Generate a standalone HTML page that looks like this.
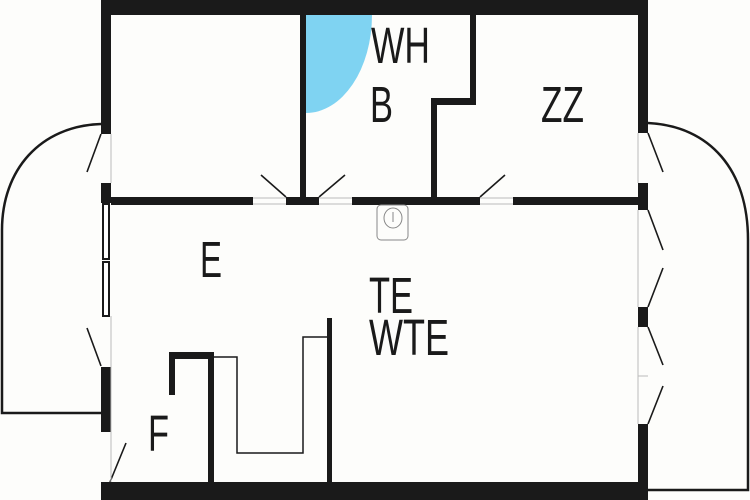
<!DOCTYPE html>
<html><head><meta charset="utf-8"><style>
html,body{margin:0;padding:0;background:#fdfdfb;}
svg{display:block;}
text{font-family:"Liberation Sans",sans-serif;fill:#1a1a1a;font-size:51px;}
</style></head><body>
<svg width="750" height="500" viewBox="0 0 750 500" xmlns="http://www.w3.org/2000/svg">
<rect width="750" height="500" fill="#fdfdfb"/>
<path d="M101,124 C40,126 2,170 2,230 L2,413 L101,413" fill="none" stroke="#1a1a1a" stroke-width="2.5"/>
<path d="M648,123 C710,126 748,170 748,240 L748,490 L648,490" fill="none" stroke="#1a1a1a" stroke-width="2.5"/>
<path d="M306,15 L372,15 A66,98 0 0 1 306,113 Z" fill="#7fd3f2"/>
<g fill="#1a1a1a">
<rect x="101" y="0" width="547" height="15"/>
<rect x="101" y="0" width="10" height="134"/>
<rect x="101" y="183" width="10" height="20"/>
<rect x="101" y="367" width="10" height="65"/>
<rect x="101" y="482" width="547" height="18"/>
<rect x="638" y="0" width="10" height="133"/>
<rect x="638" y="183" width="10" height="27"/>
<rect x="638" y="307" width="10" height="20"/>
<rect x="638" y="424" width="10" height="76"/>
<rect x="111" y="197" width="142" height="8"/>
<rect x="286" y="197" width="33" height="8"/>
<rect x="352" y="197" width="128" height="8"/>
<rect x="513" y="197" width="125" height="8"/>
<rect x="300" y="15" width="6" height="185"/>
<rect x="470" y="15" width="6" height="90"/>
<rect x="431" y="98" width="45" height="7"/>
<rect x="431" y="98" width="6" height="100"/>
<rect x="169" y="352" width="45" height="7"/>
<rect x="169" y="352" width="6" height="43"/>
<rect x="208" y="352" width="6" height="132"/>
<rect x="327" y="318" width="5" height="166"/>
</g>
<rect x="103" y="204" width="6" height="55" fill="#fff" stroke="#1a1a1a" stroke-width="2"/>
<rect x="103" y="262" width="6" height="54" fill="#fff" stroke="#1a1a1a" stroke-width="2"/>
<g stroke="#1a1a1a" stroke-width="1.6" fill="none">
<line x1="101" y1="134" x2="87" y2="172"/>
<line x1="101" y1="366" x2="87" y2="328"/>
<line x1="110" y1="482" x2="126" y2="443"/>
<line x1="286" y1="197" x2="261" y2="175"/>
<line x1="319" y1="197" x2="345" y2="175"/>
<line x1="480" y1="197" x2="505" y2="175"/>
<line x1="648" y1="133" x2="663" y2="172"/>
<line x1="648" y1="210" x2="663" y2="250"/>
<line x1="648" y1="307" x2="663" y2="268"/>
<line x1="648" y1="327" x2="663" y2="365"/>
<line x1="648" y1="424" x2="663" y2="386"/>
<polyline points="214,357 237,357 237,453 303,453 303,337 327,337" stroke-width="1.5"/>
</g>
<g stroke="#bbb" stroke-width="1" fill="none">
<line x1="638" y1="133" x2="638" y2="183"/>
<line x1="638" y1="210" x2="638" y2="307"/>
<line x1="638" y1="327" x2="638" y2="424"/>
<line x1="111" y1="134" x2="111" y2="183"/>
<line x1="111" y1="316" x2="111" y2="482"/>
<line x1="253" y1="198" x2="286" y2="198"/><line x1="253" y1="204" x2="286" y2="204"/>
<line x1="319" y1="198" x2="352" y2="198"/><line x1="319" y1="204" x2="352" y2="204"/>
<line x1="480" y1="198" x2="513" y2="198"/><line x1="480" y1="204" x2="513" y2="204"/>
<line x1="638" y1="376" x2="648" y2="376"/>
</g>
<rect x="377" y="205" width="31" height="35" rx="4" fill="none" stroke="#888" stroke-width="1"/>
<ellipse cx="393" cy="218" rx="9" ry="10" fill="none" stroke="#888" stroke-width="1"/>
<line x1="393" y1="212" x2="393" y2="222" stroke="#888" stroke-width="1"/>
<text x="371" y="63" textLength="59" lengthAdjust="spacingAndGlyphs">WH</text>
<text x="370" y="122" textLength="23" lengthAdjust="spacingAndGlyphs">B</text>
<text x="541" y="122" textLength="43" lengthAdjust="spacingAndGlyphs">ZZ</text>
<text x="200" y="277" textLength="22" lengthAdjust="spacingAndGlyphs">E</text>
<text x="369" y="313" textLength="44" lengthAdjust="spacingAndGlyphs">TE</text>
<text x="369" y="355" textLength="80" lengthAdjust="spacingAndGlyphs">WTE</text>
<text x="148" y="451" textLength="21" lengthAdjust="spacingAndGlyphs">F</text>
</svg>
</body></html>
